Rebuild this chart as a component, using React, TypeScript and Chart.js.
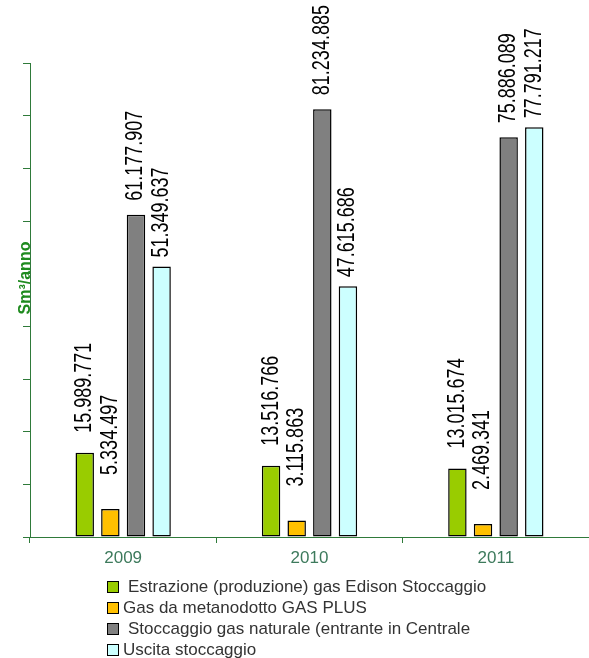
import React, { useEffect, useRef } from "react";
import { Chart, registerables } from "chart.js";

Chart.register(...registerables);

const categories = ["2009", "2010", "2011"];
const estrazione = [15989771, 13516766, 13015674];
const gasPlus = [5334497, 3115863, 2469341];
const stoccaggio = [61177907, 81234885, 75886089];
const uscita = [51349637, 47615686, 77791217];
const seriesNames = [
  "Estrazione (produzione) gas Edison Stoccaggio",
  "Gas da metanodotto GAS PLUS",
  "Stoccaggio gas naturale (entrante in Centrale",
  "Uscita stoccaggio",
];
const seriesColors = ["#99cc00", "#ffc000", "#808080", "#ccffff"];
const yMin = 0;
const yMax = 90000000;
const yStep = 10000000;
const yTitle = "Sm³/anno";

const FONT = '"Liberation Sans", Arial, sans-serif';
const AXIS_GREEN = "#2f7a3a";

const fmt = (v: number) => v.toString().replace(/\B(?=(\d{3})+(?!\d))/g, ".");

const labelOffsets = [20, 34, 14, 9];

const valueLabels = {
  id: "valueLabels",
  afterDatasetsDraw(chart: any) {
    const ctx = chart.ctx;
    chart.data.datasets.forEach((ds: any, i: number) => {
      const meta = chart.getDatasetMeta(i);
      meta.data.forEach((bar: any, j: number) => {
        const v = ds.data[j];
        ctx.save();
        ctx.translate(bar.x, bar.y - labelOffsets[i]);
        ctx.rotate(-Math.PI / 2);
        ctx.scale(1, 1.3);
        ctx.font = `18px ${FONT}`;
        ctx.fillStyle = "#000";
        ctx.textAlign = "left";
        ctx.textBaseline = "middle";
        ctx.fillText(fmt(v), 0, 0);
        ctx.restore();
      });
    });
    const area = chart.chartArea;
    ctx.save();
    ctx.translate(area.left - 4, 278);
    ctx.rotate(-Math.PI / 2);
    ctx.font = `bold 16px ${FONT}`;
    ctx.fillStyle = "#1e8a1e";
    ctx.textAlign = "center";
    ctx.textBaseline = "middle";
    ctx.fillText(yTitle, 0, 0);
    ctx.restore();
  },
};

export default function App() {
  const ref = useRef<HTMLCanvasElement>(null);
  useEffect(() => {
    if (!ref.current) return;
    const data = [estrazione, gasPlus, stoccaggio, uscita];
    const chart = new Chart(ref.current, {
      type: "bar",
      data: {
        labels: categories,
        datasets: data.map((d, i) => ({
          label: seriesNames[i],
          data: d,
          backgroundColor: seriesColors[i],
          borderColor: "#000",
          borderWidth: 1.5,
          borderSkipped: false,
          categoryPercentage: 0.55,
          barPercentage: 0.72,
        })),
      },
      options: {
        responsive: false,
        animation: false,
        devicePixelRatio: 1,
        layout: { padding: { top: 63, left: 0, right: 0, bottom: 0 } },
        plugins: {
          legend: { display: false },
          tooltip: { enabled: false },
          title: { display: false },
        },
        scales: {
          x: {
            grid: {
              display: true,
              drawOnChartArea: false,
              drawTicks: true,
              tickLength: 6,
              color: AXIS_GREEN,
              offset: true,
            },
            border: { color: AXIS_GREEN, width: 1 },
            ticks: {
              color: "#3d7a5c",
              font: { size: 17, family: FONT },
              padding: 5,
            },
            afterFit: (s: any) => {
              s.height = 121;
            },
          },
          y: {
            min: yMin,
            max: yMax,
            ticks: { display: false, stepSize: yStep },
            grid: {
              drawOnChartArea: false,
              drawTicks: true,
              tickLength: 7,
              color: AXIS_GREEN,
            },
            border: { color: AXIS_GREEN, width: 1 },
            afterFit: (s: any) => {
              s.width = 30;
            },
          },
        },
      },
      plugins: [valueLabels],
    });
    return () => chart.destroy();
  }, []);

  return (
    <div
      style={{
        position: "absolute",
        left: 0,
        top: 0,
        width: 589,
        height: 658,
        background: "#fff",
      }}
    >
      <canvas ref={ref} width={589} height={658} style={{ display: "block" }} />
      <div
        style={{
          position: "absolute",
          left: 107,
          top: 576,
          fontFamily: FONT,
          fontSize: 17,
          lineHeight: "21px",
          color: "#333",
        }}
      >
        {seriesNames.map((n, i) => (
          <div key={n} style={{ display: "flex", alignItems: "center", whiteSpace: "nowrap" }}>
            <span
              style={{
                display: "inline-block",
                width: 10,
                height: 10,
                background: seriesColors[i],
                border: "1.5px solid #000",
                marginRight: i % 2 === 0 ? 9 : 4,
              }}
            />
            <span>{n}</span>
          </div>
        ))}
      </div>
    </div>
  );
}
